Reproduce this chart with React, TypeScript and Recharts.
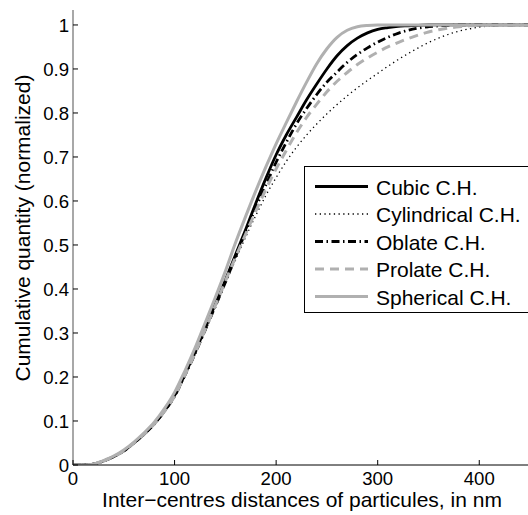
import React from "react";
import { LineChart, Line, XAxis, YAxis, Legend, Customized } from "recharts";

const distances = [
  0, 10, 20, 30, 40, 50, 60, 70, 80, 90, 100, 110, 120, 130, 140, 150, 160, 170, 180, 190, 200, 210, 220, 230,
  240, 250, 260, 270, 280, 290, 300, 310, 320, 330, 340, 350, 360, 370, 380, 390, 400, 410, 420, 430, 440, 448,
];

const cubic = [
  0, 0, 0.002, 0.009, 0.019, 0.032, 0.05, 0.07, 0.094, 0.123, 0.158, 0.205, 0.255, 0.31,
  0.365, 0.42, 0.478, 0.535, 0.595, 0.652, 0.705, 0.75, 0.79, 0.83, 0.866, 0.9, 0.93, 0.953, 0.97, 0.982, 0.99,
  0.994, 0.997, 0.998, 0.999, 1, 1, 1, 1, 1, 1, 1, 1, 1, 1,
  1,
];

const cylindrical = [
  0, 0, 0.002, 0.009, 0.019, 0.031, 0.049, 0.069, 0.092, 0.12, 0.154, 0.2, 0.25, 0.303,
  0.357, 0.412, 0.466, 0.518, 0.567, 0.613, 0.653, 0.69, 0.722, 0.75, 0.775, 0.798, 0.819, 0.839, 0.857, 0.874, 0.89,
  0.906, 0.921, 0.935, 0.948, 0.96, 0.97, 0.979, 0.986, 0.991, 0.995, 0.998, 0.999, 1, 1,
  1,
];

const oblate = [
  0, 0, 0.002, 0.009, 0.019, 0.032, 0.05, 0.07, 0.093, 0.122, 0.156, 0.203, 0.252, 0.306,
  0.36, 0.415, 0.473, 0.53, 0.585, 0.637, 0.688, 0.733, 0.775, 0.81, 0.842, 0.87, 0.893, 0.915, 0.933, 0.948, 0.961,
  0.972, 0.981, 0.988, 0.993, 0.996, 0.998, 0.999, 1, 1, 1, 1, 1, 1, 1,
  1,
];

const prolate = [
  0, 0, 0.002, 0.009, 0.019, 0.032, 0.05, 0.07, 0.093, 0.122, 0.156, 0.203, 0.253, 0.307,
  0.362, 0.418, 0.472, 0.525, 0.577, 0.627, 0.673, 0.715, 0.755, 0.79, 0.82, 0.848, 0.872, 0.892, 0.91, 0.925, 0.938,
  0.95, 0.96, 0.969, 0.977, 0.984, 0.989, 0.993, 0.996, 0.998, 0.999, 1, 1, 1, 1,
  1,
];

const spherical = [
  0, 0, 0.002, 0.01, 0.02, 0.034, 0.052, 0.073, 0.097, 0.128, 0.165, 0.213, 0.265, 0.322,
  0.38, 0.44, 0.505, 0.565, 0.623, 0.678, 0.73, 0.778, 0.825, 0.87, 0.912, 0.946, 0.972, 0.988, 0.996, 0.999, 1,
  1, 1, 1, 1, 1, 1, 1, 1, 1, 1, 1, 1, 1, 1,
  1,
];

const xTicks = [0, 100, 200, 300, 400];
const yTicks = [0, 0.1, 0.2, 0.3, 0.4, 0.5, 0.6, 0.7, 0.8, 0.9, 1];

const xLabel = "Inter\u2212centres distances of particules, in nm";
const yLabel = "Cumulative quantity (normalized)";

const FONT = '"Liberation Sans", Arial, Helvetica, sans-serif';
const GRAY = "#b0b0b0";

const series = [
  { key: "cubic", name: "Cubic C.H.", values: cubic, stroke: "#000", width: 2.8, dash: undefined as string | undefined },
  { key: "cylindrical", name: "Cylindrical C.H.", values: cylindrical, stroke: "#000", width: 1.3, dash: "1.3 3.4" },
  { key: "oblate", name: "Oblate C.H.", values: oblate, stroke: "#000", width: 2.8, dash: "8 3.5 1.5 3.5" },
  { key: "prolate", name: "Prolate C.H.", values: prolate, stroke: GRAY, width: 3, dash: "9 6" },
  { key: "spherical", name: "Spherical C.H.", values: spherical, stroke: GRAY, width: 3, dash: undefined },
];

const data = distances.map((x, i) => {
  const row: Record<string, number> = { x };
  series.forEach((s) => {
    row[s.key] = s.values[i];
  });
  return row;
});

const fmtY = (v: number) => (v === 0 ? "0" : v === 1 ? "1" : v.toFixed(1));

const XTick = (props: any) => {
  const { x, y, payload } = props;
  return (
    <g>
      <line x1={x} x2={x} y1={y} y2={y - 5} stroke="#000" strokeWidth={1} />
      <text x={x} y={y + 20} textAnchor="middle" fontFamily={FONT} fontSize={18.6} fill="#000">
        {payload.value}
      </text>
    </g>
  );
};

const YTick = (props: any) => {
  const { x, y, payload } = props;
  return (
    <g>
      <line x1={x} x2={x + 5} y1={y} y2={y} stroke="#000" strokeWidth={1} />
      <text x={x - 4} y={y + 6.7} textAnchor="end" fontFamily={FONT} fontSize={18.6} fill="#000">
        {fmtY(payload.value)}
      </text>
    </g>
  );
};

const AxisTitles = () => (
  <g>
    <text x={302} y={507} textAnchor="middle" fontFamily={FONT} fontSize={21} fill="#000">
      {xLabel}
    </text>
    <text
      x={0}
      y={0}
      transform="translate(29.5,228) rotate(-90)"
      textAnchor="middle"
      fontFamily={FONT}
      fontSize={21}
      fill="#000"
    >
      {yLabel}
    </text>
  </g>
);

const LegendBox = () => {
  const rowBase = [27.5, 55, 82.5, 110, 137.5];
  return (
    <div
      style={{
        position: "relative",
        width: 224,
        height: 147,
        boxSizing: "border-box",
        borderTop: "1px solid #000",
        borderLeft: "1px solid #000",
        borderBottom: "1px solid #000",
        background: "#fff",
      }}
    >
      <svg width={223} height={145} style={{ position: "absolute", left: 0, top: 0, display: "block" }}>
        {series.map((s, i) => (
          <g key={s.key}>
            <line
              x1={10}
              x2={63}
              y1={rowBase[i] - 8}
              y2={rowBase[i] - 8}
              stroke={s.stroke}
              strokeWidth={s.width}
              strokeDasharray={s.dash}
            />
            <text x={71} y={rowBase[i]} fontFamily={FONT} fontSize={21} fill="#000">
              {s.name}
            </text>
          </g>
        ))}
      </svg>
    </div>
  );
};

export default function App() {
  return (
    <div style={{ position: "absolute", left: 0, top: 0, width: 528, height: 515, background: "#fff" }}>
      <LineChart width={528} height={515} data={data} margin={{ top: 10, right: 0, bottom: 0, left: 0 }}>
        <XAxis
          dataKey="x"
          type="number"
          domain={[0, 448]}
          ticks={xTicks}
          height={50}
          tickSize={0}
          tickMargin={0}
          tickLine={false}
          stroke="#000"
          axisLine={{ stroke: "#000", strokeWidth: 1 }}
          tick={<XTick />}
          interval={0}
          allowDataOverflow
        />
        <YAxis
          type="number"
          domain={[0, 1.034]}
          ticks={yTicks}
          width={73}
          tickSize={0}
          tickMargin={0}
          tickLine={false}
          axisLine={{ stroke: "#6e6e6e", strokeWidth: 1.2 }}
          tick={<YTick />}
          interval={0}
          allowDataOverflow
        />
        {series.map((s) => (
          <Line
            key={s.key}
            type="monotone"
            dataKey={s.key}
            name={s.name}
            stroke={s.stroke}
            strokeWidth={s.width}
            strokeDasharray={s.dash}
            dot={false}
            activeDot={false}
            isAnimationActive={false}
          />
        ))}
        <Legend
          layout="vertical"
          align="center"
          verticalAlign="middle"
          wrapperStyle={{ position: "absolute", left: 304, top: 166, width: 224, height: 147 }}
          content={() => <LegendBox />}
        />
        <Customized component={AxisTitles} />
      </LineChart>
    </div>
  );
}
